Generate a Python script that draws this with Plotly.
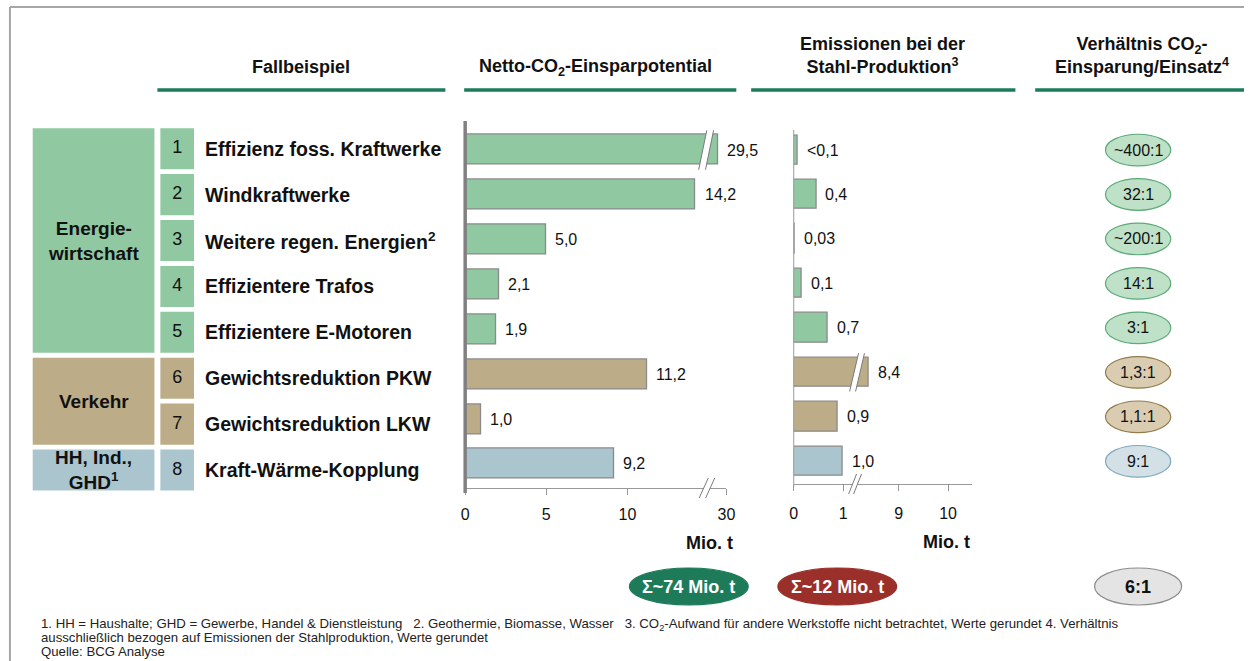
import plotly.graph_objects as go

W, H = 1253, 661
FONT = "Liberation Sans, Arial, sans-serif"

# ---------------- data ----------------
rows = [1, 2, 3, 4, 5, 6, 7, 8]
row_numbers = ["1", "2", "3", "4", "5", "6", "7", "8"]
cases = [
    "Effizienz foss. Kraftwerke",
    "Windkraftwerke",
    "Weitere regen. Energien<sup>2</sup>",
    "Effizientere Trafos",
    "Effizientere E-Motoren",
    "Gewichtsreduktion PKW",
    "Gewichtsreduktion LKW",
    "Kraft-Wärme-Kopplung",
]
case_sector = ["energie", "energie", "energie", "energie", "energie", "verkehr", "verkehr", "hh"]
sector_order = ["energie", "verkehr", "hh"]
sector_names = {
    "energie": "Energie-<br>wirtschaft",
    "verkehr": "Verkehr",
    "hh": "HH, Ind.,<br>GHD<sup>1</sup>",
}
savings = [29.5, 14.2, 5.0, 2.1, 1.9, 11.2, 1.0, 9.2]
savings_labels = ["29,5", "14,2", "5,0", "2,1", "1,9", "11,2", "1,0", "9,2"]
steel = [0.08, 0.46, 0.03, 0.17, 0.69, 8.4, 0.89, 1.0]
steel_labels = ["<0,1", "0,4", "0,03", "0,1", "0,7", "8,4", "0,9", "1,0"]
ratios = ["~400:1", "32:1", "~200:1", "14:1", "3:1", "1,3:1", "1,1:1", "9:1"]
savings_ticks = [0, 5, 10, 30]
steel_ticks = [0, 1, 9, 10]
total_savings = "Σ~74 Mio. t"
total_steel = "Σ~12 Mio. t"
total_ratio = "6:1"

# ---------------- styles ----------------
FILL = {"energie": "#8fc8a1", "verkehr": "#bcad88", "hh": "#abc5ce"}
ELL_FILL = {"energie": "#bfe1c8", "verkehr": "#d9ccb1", "hh": "#d3e1e7"}
ELL_LINE = {"energie": "#5aab77", "verkehr": "#927c4b", "hh": "#7fa9bd"}
DARK_GREEN = "#1b7b5b"
TXT = "#111111"


def X(px):
    return px / W


def Y(py):
    return 1 - py / H


# broken-axis transforms
def brk1(v):
    return v if v < 15 else v - 13.9


def brk2(v):
    return v if v < 2 else v - 6.88


fig = go.Figure()

fig.add_trace(go.Bar(
    x=[brk1(v) for v in savings], y=rows, orientation="h",
    marker=dict(color=[FILL[s] for s in case_sector], line=dict(color="#8a8a8a", width=1.3)),
    width=0.67, xaxis="x", yaxis="y", hoverinfo="skip", showlegend=False,
))
fig.add_trace(go.Bar(
    x=[brk2(v) for v in steel], y=rows, orientation="h",
    marker=dict(color=[FILL[s] for s in case_sector], line=dict(color="#8a8a8a", width=1.3)),
    width=0.66, xaxis="x2", yaxis="y2", hoverinfo="skip", showlegend=False,
))
fig.add_trace(go.Scatter(
    x=[0.5] * len(rows), y=rows, mode="text", text=row_numbers,
    textfont=dict(family=FONT, size=18, color=TXT),
    xaxis="x3", yaxis="y3", hoverinfo="skip", showlegend=False,
))

shapes = []
ann = []

# frame
shapes.append(dict(type="line", xref="paper", yref="paper", x0=X(6), x1=1, y0=Y(7), y1=Y(7),
                   line=dict(color="#a6a6a6", width=2)))
shapes.append(dict(type="line", xref="paper", yref="paper", x0=X(6), x1=X(6), y0=Y(7), y1=Y(661),
                   line=dict(color="#a6a6a6", width=2)))

# headers
for (x0, x1) in [(155, 446), (465, 740), (755, 1022), (1042, 1253)]:
    shapes.append(dict(type="line", xref="paper", yref="paper", x0=X(x0), x1=X(x1), y0=Y(90), y1=Y(90),
                       line=dict(color=DARK_GREEN, width=3.5)))
headers = [
    ("Fallbeispiel", 300, 67),
    ("Netto-CO<sub>2</sub>-Einsparpotential", 598, 67),
    ("Emissionen bei der<br>Stahl-Produktion<sup>3</sup>", 888, 56),
    ("Verhältnis CO<sub>2</sub>-<br>Einsparung/Einsatz<sup>4</sup>", 1150, 56),
]
for t, x, y in headers:
    ann.append(dict(text="<b>" + t + "</b>", xref="paper", yref="paper", x=X(x), y=Y(y),
                    xanchor="center", yanchor="middle", showarrow=False,
                    font=dict(family=FONT, size=18, color=TXT)))

# sector boxes (left table on y3)
H3 = 0.447
for s in sector_order:
    idx = [r for r, cs in zip(rows, case_sector) if cs == s]
    shapes.append(dict(type="rect", xref="paper", yref="y3", x0=X(29), x1=X(152),
                       y0=min(idx) - H3, y1=max(idx) + H3, fillcolor=FILL[s], line=dict(width=0),
                       layer="below"))
    ann.append(dict(text="<b>" + sector_names[s] + "</b>", xref="paper", yref="y3", x=X(90.5),
                    y=(min(idx) + max(idx)) / 2, xanchor="center", yanchor="middle", showarrow=False,
                    font=dict(family=FONT, size=19, color=TXT)))

for r, s, c in zip(rows, case_sector, cases):
    shapes.append(dict(type="rect", xref="paper", yref="y3", x0=X(158), x1=X(192),
                       y0=r - H3, y1=r + H3, fillcolor=FILL[s], line=dict(width=0), layer="below"))
    ann.append(dict(text="<b>" + c + "</b>", xref="paper", yref="y3", x=X(201), y=r,
                    xanchor="left", yanchor="middle", showarrow=False,
                    font=dict(family=FONT, size=19.5, color=TXT)))

# bar value labels
for r, v, lab in zip(rows, savings, savings_labels):
    ann.append(dict(text=lab, xref="x", yref="y", x=brk1(v), y=r, xanchor="left", yanchor="middle",
                    xshift=7, showarrow=False, font=dict(family=FONT, size=16, color=TXT)))
for r, v, lab in zip(rows, steel, steel_labels):
    ann.append(dict(text=lab, xref="x2", yref="y2", x=brk2(v), y=r, xanchor="left", yanchor="middle",
                    xshift=7, showarrow=False, font=dict(family=FONT, size=16, color=TXT)))

# axis lines
shapes.append(dict(type="line", xref="paper", yref="paper", x0=X(466), x1=X(466), y0=Y(121), y1=Y(493),
                   line=dict(color="#808080", width=3.5)))
shapes.append(dict(type="line", xref="paper", yref="paper", x0=X(798), x1=X(798), y0=Y(130), y1=Y(487),
                   line=dict(color="#9a9a9a", width=1)))


def break_marks(xref, yref, xc, g, s, y_bot, y_top):
    out = [dict(type="path", xref=xref, yref=yref,
                path=f"M {xc-g-s},{y_bot} L {xc-g+s},{y_top} L {xc+g+s},{y_top} L {xc+g-s},{y_bot} Z",
                fillcolor="white", line=dict(width=0))]
    for d in (-g, g):
        out.append(dict(type="line", xref=xref, yref=yref, x0=xc + d - s, x1=xc + d + s,
                        y0=y_bot, y1=y_top, line=dict(color="#7a7a7a", width=1)))
    return out


shapes += break_marks("x", "y", 14.85, 0.21, 0.25, 1 + 0.44, 1 - 0.44)
shapes += break_marks("x", "paper", 14.9, 0.2, 0.28, Y(498), Y(478))
shapes += break_marks("x2", "y2", 1.28, 0.06, 0.09, 6 + 0.43, 6 - 0.43)
shapes += break_marks("x2", "paper", 1.24, 0.05, 0.08, Y(494), Y(474))

ann.append(dict(text="<b>Mio. t</b>", xref="paper", yref="paper", x=X(713), y=Y(543), xanchor="center",
                yanchor="middle", showarrow=False, font=dict(family=FONT, size=18, color=TXT)))
ann.append(dict(text="<b>Mio. t</b>", xref="paper", yref="paper", x=X(952), y=Y(542), xanchor="center",
                yanchor="middle", showarrow=False, font=dict(family=FONT, size=18, color=TXT)))

# ratio ellipses (on y2 rows)
for r, s, t in zip(rows, case_sector, ratios):
    shapes.append(dict(type="circle", xref="paper", yref="y2", x0=X(1113), x1=X(1179),
                       y0=r - 0.355, y1=r + 0.355, fillcolor=ELL_FILL[s],
                       line=dict(color=ELL_LINE[s], width=1.2)))
    ann.append(dict(text=t, xref="paper", yref="y2", x=X(1146), y=r, xanchor="center", yanchor="middle",
                    showarrow=False, font=dict(family=FONT, size=16, color=TXT)))

# totals
totals = [
    (total_savings, 632, 752, "#1e7b5a", "#1e7b5a", "white"),
    (total_steel, 782, 902, "#9b2f2a", "#9b2f2a", "white"),
    (total_ratio, 1102, 1190, "#e4e4e4", "#8c8c8c", TXT),
]
for t, x0, x1, fc, lc, tc in totals:
    shapes.append(dict(type="circle", xref="paper", yref="paper", x0=X(x0), x1=X(x1), y0=Y(605), y1=Y(568),
                       fillcolor=fc, line=dict(color=lc, width=1.2)))
    ann.append(dict(text="<b>" + t + "</b>", xref="paper", yref="paper", x=X((x0 + x1) / 2), y=Y(586.5),
                    xanchor="center", yanchor="middle", showarrow=False,
                    font=dict(family=FONT, size=18, color=tc)))

# footnotes
foot = [
    ("1. HH = Haushalte; GHD = Gewerbe, Handel &amp; Dienstleistung   2. Geothermie, Biomasse, Wasser   "
     "3. CO<sub>2</sub>-Aufwand für andere Werkstoffe nicht betrachtet, Werte gerundet 4. Verhältnis", 624),
    ("ausschließlich bezogen auf Emissionen der Stahlproduktion, Werte gerundet", 637.5),
    ("Quelle: BCG Analyse", 651),
]
for t, y in foot:
    ann.append(dict(text=t, xref="paper", yref="paper", x=X(35), y=Y(y), xanchor="left", yanchor="middle",
                    showarrow=False, font=dict(family=FONT, size=13.2, color="#222222")))

axis_common = dict(showgrid=False, zeroline=False, ticks="outside", ticklen=6, tickcolor="#999999",
                   showline=True, linecolor="#999999", linewidth=1, fixedrange=True,
                   tickfont=dict(family=FONT, size=16, color=TXT))

fig.update_layout(
    width=W, height=H, autosize=False, margin=dict(l=0, r=0, t=0, b=0),
    paper_bgcolor="white", plot_bgcolor="rgba(0,0,0,0)",
    showlegend=False, bargap=0,
    xaxis=dict(domain=[X(466), X(730)], range=[0, brk1(30)], anchor="free", position=Y(488),
               tickvals=[brk1(t) for t in savings_ticks], ticktext=[str(t) for t in savings_ticks],
               ticklabelstandoff=6, **axis_common),
    yaxis=dict(domain=[Y(486.4), Y(127.6)], range=[8.5, 0.5], visible=False, anchor="x", fixedrange=True),
    xaxis2=dict(domain=[X(798), X(978)], range=[0, 3.6], anchor="free", position=Y(484),
                tickvals=[brk2(t) for t in steel_ticks], ticktext=[str(t) for t in steel_ticks],
                ticklabelstandoff=9, **axis_common),
    yaxis2=dict(domain=[Y(483.5), Y(127.8)], range=[8.5, 0.5], visible=False, anchor="x2", fixedrange=True),
    xaxis3=dict(domain=[X(158), X(192)], range=[0, 1], visible=False, anchor="y3", fixedrange=True),
    yaxis3=dict(domain=[Y(493), Y(125.75)], range=[8.5, 0.5], visible=False, anchor="x3", fixedrange=True),
    shapes=shapes,
    annotations=ann,
    font=dict(family=FONT, color=TXT),
)

fig.write_html(
    "out.html",
    config={"responsive": False, "displayModeBar": False},
    post_script="document.body.style.margin='0';document.documentElement.style.overflow='hidden';",
)
